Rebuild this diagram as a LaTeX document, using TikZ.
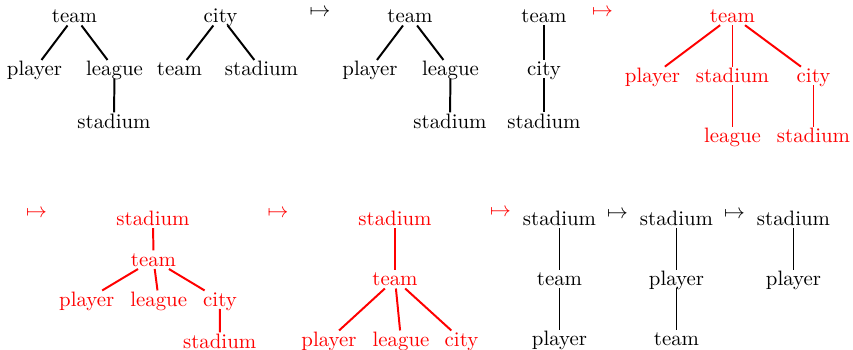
\documentclass[tikz,border=0pt]{standalone}
\begin{document}
\begin{tikzpicture}[x=0.48pt,y=-0.48pt,
  lbl/.style={inner sep=1pt,text height=6.5pt,text depth=0pt,anchor=base},
  hl/.style={red},
  edge/.style={line width=0.95pt},
  arr/.style={inner sep=0pt}]
\useasboundingbox (0,0) rectangle (853,350);
% ---------- row 1 ----------
% tree 1
\node[lbl] (a1) at (74.5,23) {team};
\node[lbl] (a2) at (34.5,76) {player};
\node[lbl] (a3) at (114.5,76) {league};
\node[lbl] (a4) at (114,128.5) {stadium};
\draw[edge] (a1) -- (a2);
\draw[edge] (a1) -- (a3);
\draw[edge] (a3) -- (a4);
% tree 2
\node[lbl] (b1) at (220.5,23) {city};
\node[lbl] (b2) at (179.5,76) {team};
\node[lbl] (b3) at (261.5,76) {stadium};
\draw[edge] (b1) -- (b2);
\draw[edge] (b1) -- (b3);
\node[arr] (m1) at (320,12.5) {$\mapsto$};
% tree 3
\node[lbl] (c1) at (410,23) {team};
\node[lbl] (c2) at (370,76) {player};
\node[lbl] (c3) at (450.5,76) {league};
\node[lbl] (c4) at (450,128.5) {stadium};
\draw[edge] (c1) -- (c2);
\draw[edge] (c1) -- (c3);
\draw[edge] (c3) -- (c4);
% tree 4
\node[lbl] (d1) at (544,23) {team};
\node[lbl] (d2) at (544,76) {city};
\node[lbl] (d3) at (544,128.5) {stadium};
\draw[edge] (d1) -- (d2);
\draw[edge] (d2) -- (d3);
\node[arr,hl] (m2) at (602.5,12.5) {$\mapsto$};
% tree 5 (red)
\node[lbl,hl] (e1) at (732.5,22.7) {team};
\node[lbl,hl] (e2) at (652.5,82.7) {player};
\node[lbl,hl] (e3) at (732.5,82.7) {stadium};
\node[lbl,hl] (e4) at (813.5,82.7) {city};
\node[lbl,hl] (e5) at (732.5,142.7) {league};
\node[lbl,hl] (e6) at (813.5,142.7) {stadium};
\draw[edge,hl] (e1) -- (e2);
\draw[edge,hl] (e1) -- (e3);
\draw[edge,hl] (e1) -- (e4);
\draw[edge,hl] (e3) -- (e5);
\draw[edge,hl] (e4) -- (e6);
% ---------- row 2 ----------
\node[arr,hl] (m3) at (36.5,214) {$\mapsto$};
% tree 6 (red)
\node[lbl,hl] (f1) at (153,225.7) {stadium};
\node[lbl,hl] (f2) at (153.5,266.5) {team};
\node[lbl,hl] (f3) at (86.7,306.5) {player};
\node[lbl,hl] (f4) at (158.7,306.5) {league};
\node[lbl,hl] (f5) at (220,306.5) {city};
\node[lbl,hl] (f6) at (219.7,348.5) {stadium};
\draw[edge,hl] (f1) -- (f2);
\draw[edge,hl] (f2) -- (f3);
\draw[edge,hl] (f2) -- (f4);
\draw[edge,hl] (f2) -- (f5);
\draw[edge,hl] (f5) -- (f6);
\node[arr,hl] (m4) at (278,214) {$\mapsto$};
% tree 7 (red)
\node[lbl,hl] (g1) at (395,225.7) {stadium};
\node[lbl,hl] (g2) at (395,286) {team};
\node[lbl,hl] (g3) at (329,346.5) {player};
\node[lbl,hl] (g4) at (401,346.5) {league};
\node[lbl,hl] (g5) at (461.5,346.5) {city};
\draw[edge,hl] (g1) -- (g2);
\draw[edge,hl] (g2) -- (g3);
\draw[edge,hl] (g2) -- (g4);
\draw[edge,hl] (g2) -- (g5);
\node[arr,hl] (m5) at (500.5,213) {$\mapsto$};
% tree 8
\node[lbl] (h1) at (559.5,225.7) {stadium};
\node[lbl] (h2) at (559.5,285.7) {team};
\node[lbl] (h3) at (559.5,346) {player};
\draw[edge] (h1) -- (h2);
\draw[edge] (h2) -- (h3);
\node[arr] (m6) at (617.5,215) {$\mapsto$};
% tree 9
\node[lbl] (i1) at (676.5,225.7) {stadium};
\node[lbl] (i2) at (676.5,285.7) {player};
\node[lbl] (i3) at (676.5,346) {team};
\draw[edge] (i1) -- (i2);
\draw[edge] (i2) -- (i3);
\node[arr] (m7) at (734.5,215) {$\mapsto$};
% tree 10
\node[lbl] (j1) at (793.5,225.7) {stadium};
\node[lbl] (j2) at (793.5,285.7) {player};
\draw[edge] (j1) -- (j2);
\end{tikzpicture}
\end{document}
